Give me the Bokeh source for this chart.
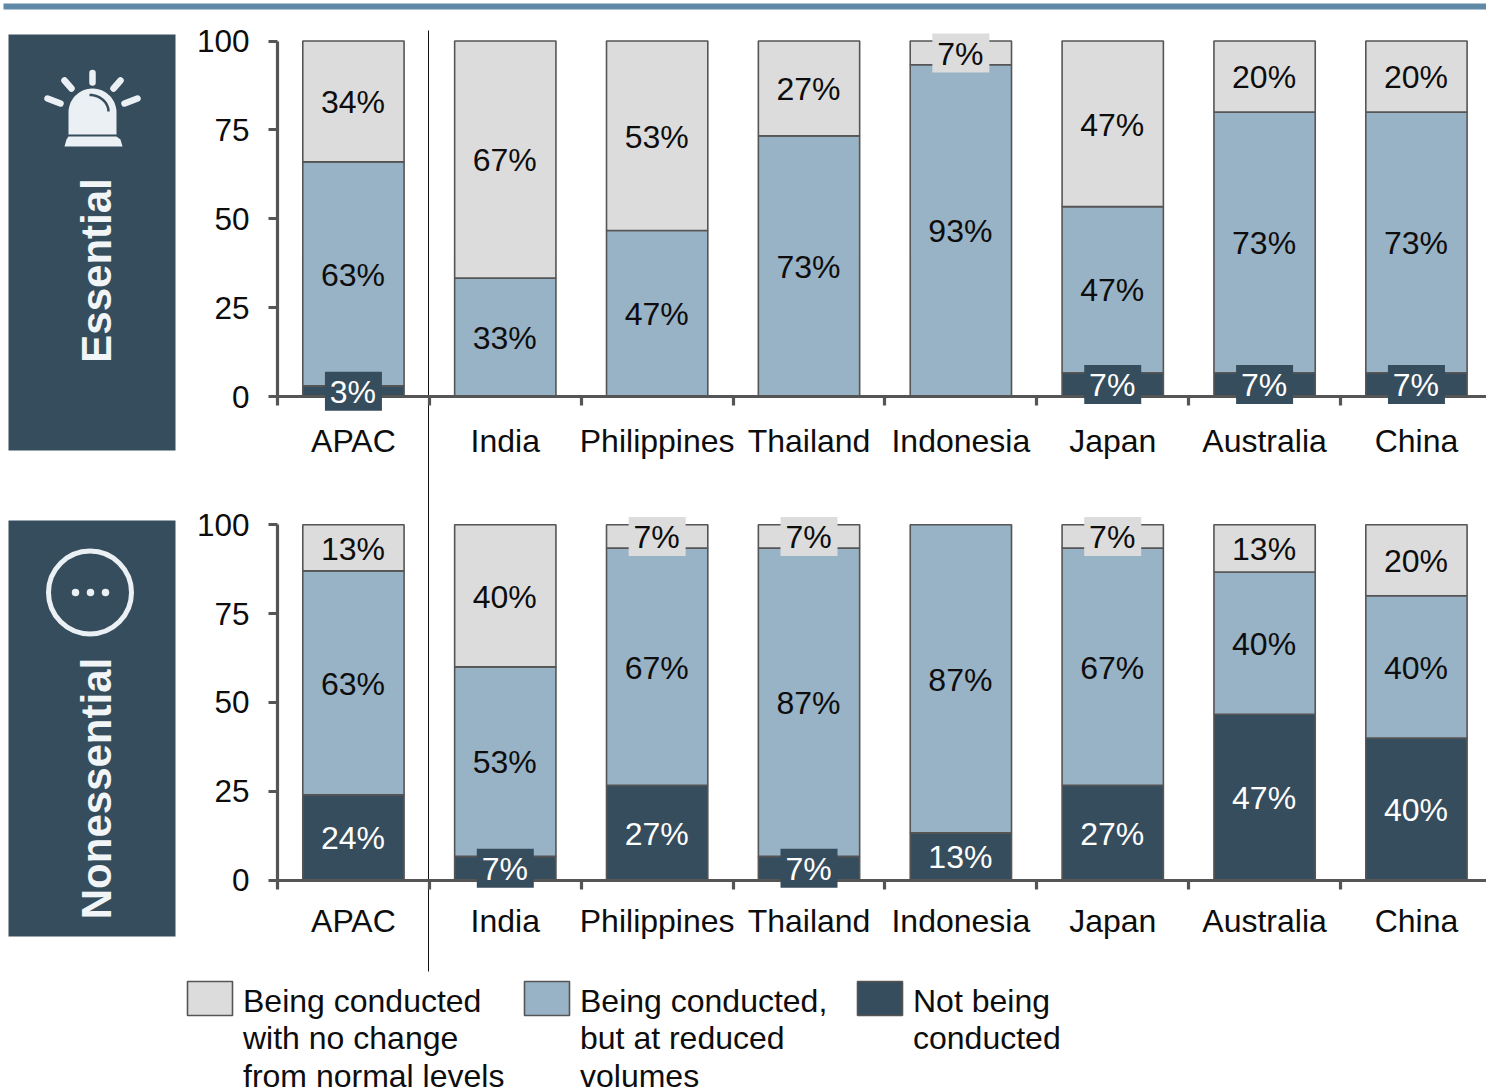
import numpy as np
from bokeh.plotting import figure
from bokeh.models import Range1d, LinearAxis, FixedTicker, ColumnDataSource
from bokeh.core.properties import value
from bokeh.embed import file_html
from bokeh.resources import INLINE

categories = ["APAC", "India", "Philippines", "Thailand", "Indonesia", "Japan", "Australia", "China"]
essential_not = [3, 0, 0, 0, 0, 6.7, 6.7, 6.7]
essential_reduced = [63, 33.3, 46.7, 73.3, 93.3, 46.7, 73.3, 73.3]
essential_same = [34, 66.7, 53.3, 26.7, 6.7, 46.6, 20, 20]
nonessential_not = [24, 6.7, 26.7, 6.7, 13.3, 26.7, 46.7, 40]
nonessential_reduced = [63, 53.3, 66.7, 86.7, 86.7, 66.7, 40, 40]
nonessential_same = [13, 40, 6.6, 6.6, 0, 6.6, 13.3, 20]
y_ticks = [0, 25, 50, 75, 100]
legend_lines = [
    ["Being conducted", "with no change", "from normal levels"],
    ["Being conducted,", "but at reduced", "volumes"],
    ["Not being", "conducted"],
]
panel_titles = ["Essential", "Nonessential"]

LIGHT, MID, DARK = "#dcdcdc", "#98b2c6", "#364d5d"
AXIS = "#555555"
ICON = "#ebf0f4"
TEXT = "#0d0d0d"
FONT = "Liberation Sans"
W, H = 1486, 1092
X0, CAT_W = 277.0, 151.86
PX_PER_UNIT = 3.555
ZERO_TOP, ZERO_BOTTOM = 396.0, 879.7

p = figure(width=W, height=H, output_backend="svg", toolbar_location=None,
           x_range=Range1d(-X0 / CAT_W, (W - X0) / CAT_W),
           y_range=Range1d((ZERO_TOP - H) / PX_PER_UNIT, ZERO_TOP / PX_PER_UNIT),
           x_axis_type=None, y_axis_type=None,
           min_border=0, min_border_left=0, min_border_right=0, min_border_top=0, min_border_bottom=0,
           outline_line_color=None, background_fill_color="white", border_fill_color="white")
p.grid.visible = False
p.extra_y_ranges = {
    "lower": Range1d((ZERO_BOTTOM - H) / PX_PER_UNIT, ZERO_BOTTOM / PX_PER_UNIT),
    "px": Range1d(H, 0),
}
p.extra_x_ranges = {"px": Range1d(0, W)}
PXR = dict(x_range_name="px", y_range_name="px")

# decoration
p.quad(left=[3], right=[W], top=[3], bottom=[9], fill_color="#6089a8", line_color=None, **PXR)
p.quad(left=[8, 8], right=[175, 175], top=[34, 520], bottom=[450, 936], fill_color=DARK, line_color=None, **PXR)
p.segment(x0=[428], x1=[428], y0=[30], y1=[971], line_color="#111111", line_width=1, **PXR)

# siren icon
t = np.linspace(np.pi, 0, 40)
dome_x = list(92 + 24 * np.cos(t)) + [116, 68]
dome_y = list(112 - 24 * np.sin(t)) + [134, 134]
p.patch(dome_x, dome_y, fill_color=ICON, line_color=None, **PXR)
p.patch([68, 116, 120, 122, 64, 66], [136, 136, 139, 146, 146, 139], fill_color=ICON, line_color=None, **PXR)
p.segment(x0=[92, 64, 120, 47, 124], y0=[72.5, 80, 80, 98, 103],
          x1=[92, 71, 113, 60, 137], y1=[82, 88, 88, 103, 98],
          line_color=ICON, line_width=6.5, line_cap="round", **PXR)
t2 = np.linspace(-np.pi * 0.5, 0, 16)
p.line(list(89 + 19 * np.cos(t2)), list(111 + 16.5 * np.sin(t2)), line_color=DARK, line_width=2.5, **PXR)

# ellipsis icon
p.scatter(x=[89.5], y=[592], size=83, marker="circle", fill_color=None, line_color=ICON, line_width=5, **PXR)
p.scatter(x=[75, 90, 105], y=[592, 592, 592], size=7.5, marker="circle", fill_color=ICON, line_color=None, **PXR)

p.text(x=[96, 96], y=[270, 788], text=panel_titles, angle=np.pi / 2, text_align="center", text_baseline="middle",
       text_color="#f2f5f7", text_font=value(FONT), text_font_style="bold", text_font_size="42px", **PXR)


def panel(not_v, red_v, same_v, y_name, label_standoff):
    rng = {"y_range_name": y_name} if y_name else {}
    xs = np.arange(len(categories)) + 0.5
    base = np.zeros(len(categories))
    boxes, texts = [], []
    for vals, col, tc in ((not_v, DARK, "white"), (red_v, MID, TEXT), (same_v, LIGHT, TEXT)):
        vals = np.array(vals, float)
        keep = vals > 0
        src = ColumnDataSource(dict(x=xs[keep], b=base[keep], t=(base + vals)[keep]))
        p.vbar(x="x", bottom="b", top="t", width=0.667, source=src, fill_color=col, line_color=AXIS, line_width=1.6, **rng)
        mid = base + vals / 2
        small = keep & (vals < 10)
        boxes.append((xs[small], mid[small], col))
        texts.append((xs[keep], mid[keep], [f"{v:.0f}%" for v in vals[keep]], tc))
        base = base + vals
    for bx, by, col in boxes:
        p.rect(x=bx, y=by, width=57, height=39, width_units="screen", height_units="screen",
               fill_color=col, line_color=None, level="annotation", **rng)
    for tx, ty, labels, tc in texts:
        p.text(x=tx, y=ty, text=labels, text_align="center", text_baseline="middle", text_color=tc,
               x_offset=-0.5, y_offset=0.8,
               text_font=value(FONT), text_font_size="32px", level="annotation", **rng)

    ya = LinearAxis(ticker=FixedTicker(ticks=y_ticks), bounds=(0, 100), fixed_location=0, **rng)
    ya.axis_line_color = AXIS
    ya.axis_line_width = 3.2
    ya.major_tick_line_color = AXIS
    ya.major_tick_line_width = 3.2
    ya.major_tick_in = 0
    ya.major_tick_out = 9
    ya.minor_tick_line_color = None
    ya.major_label_standoff = 19
    ya.major_label_text_font = FONT
    ya.major_label_text_font_size = "31.5px"
    ya.major_label_text_color = TEXT
    p.add_layout(ya, "left")

    xa = LinearAxis(ticker=FixedTicker(ticks=list(xs), minor_ticks=list(range(len(categories)))),
                    bounds=(0, (W - X0) / CAT_W), fixed_location=0, **rng)
    xa.major_label_overrides = {float(x): c for x, c in zip(xs, categories)}
    xa.axis_line_color = AXIS
    xa.axis_line_width = 3.2
    xa.major_tick_line_color = None
    xa.major_tick_in = 0
    xa.major_tick_out = 0
    xa.minor_tick_line_color = AXIS
    xa.minor_tick_line_width = 3.2
    xa.minor_tick_in = 0
    xa.minor_tick_out = 9
    xa.major_label_standoff = label_standoff
    xa.major_label_text_font = FONT
    xa.major_label_text_font_size = "32px"
    xa.major_label_text_color = TEXT
    p.add_layout(xa, "below")


panel(essential_not, essential_reduced, essential_same, None, 17)
panel(nonessential_not, nonessential_reduced, nonessential_same, "lower", 14)

# legend
for sx, tx, col, lines in zip([187, 524, 857], [242.5, 579.5, 912.5], [LIGHT, MID, DARK], legend_lines):
    p.quad(left=[sx], right=[sx + 45], top=[981], bottom=[1015], fill_color=col, line_color=AXIS, line_width=1.6, **PXR)
    p.text(x=[tx] * len(lines), y=[1000 + 37.5 * i for i in range(len(lines))], text=lines, text_align="left",
           text_baseline="middle", text_color=TEXT, text_font=value(FONT), text_font_size="32px", **PXR)

open("out.html", "w").write(file_html(p, INLINE))
